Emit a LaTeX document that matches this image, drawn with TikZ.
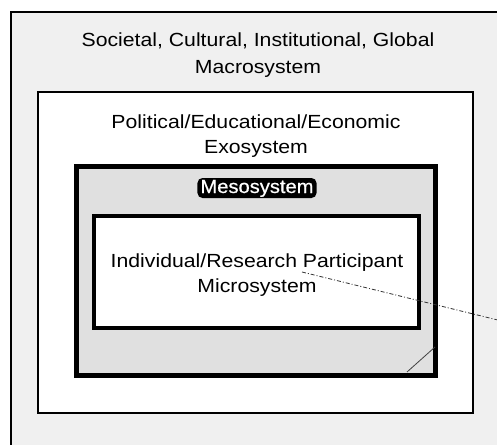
\documentclass[tikz,border=0pt]{standalone}
\usepackage{fontspec}
\setmainfont{Liberation Sans}[FakeStretch=1.117]
\newfontfamily\tagfont{Liberation Sans}[FakeStretch=1.06,FakeBold=0.6]
\begin{document}
\begin{tikzpicture}[x=1pt,y=-1pt,
  band/.style={draw=black, rectangle, inner sep=0pt, outer sep=0pt, anchor=north west},
  caption/.style={align=center, inner sep=0pt, anchor=base,
    font=\fontsize{19}{25}\selectfont},
  systag/.style={fill=black, text=white, rounded corners=5pt,
    inner xsep=3pt, inner ysep=1.5pt, text height=13.5pt, text depth=3.5pt,
    font=\tagfont\fontsize{19}{23}\selectfont},
  trace/.style={draw=black!80, line width=0.8pt,
    dash pattern=on 4pt off 2pt on 1pt off 2pt},
  nick/.style={draw=black!75, line width=0.8pt}]
\useasboundingbox (0,0) rectangle (497,444);
\fill[white] (0,0) rectangle (497,444);
\clip (0,0) rectangle (497,444);

% nested system boxes, outermost first
\node[band, line width=2.2pt, fill=black!6,
  minimum width=520pt, minimum height=470pt] (macro) at (11,12) {};
\node[band, line width=1.8pt, fill=white,
  minimum width=435pt, minimum height=321pt] (exo) at (38,92) {};
\node[band, line width=4.5pt, fill=black!12,
  minimum width=359pt, minimum height=209pt] (meso) at (76.5,166.5) {};
\node[band, line width=4pt, fill=white,
  minimum width=324.5pt, minimum height=111.5pt] (micro) at (94,216) {};

% labels (base anchor sits on the last line)
\node[caption, font=\fontsize{19}{27}\selectfont] (macrotext) at (258,74)
  {Societal, Cultural, Institutional, Global\\Macrosystem};
\node[caption] (exotext) at (256,153)
  {Political/Educational/Economic\\Exosystem};
\node[systag] (mesotext) at (257,188) {Mesosystem};
\node[caption] (microtext) at (257,292)
  {Individual/Research Participant\\Microsystem};

% faint strokes
\coordinate (trace start) at (302,272);
\coordinate (trace end) at (510,323);
\draw[trace] (trace start) -- (trace end);
\coordinate (nick top) at (435,347);
\coordinate (nick bottom) at (407,372);
\draw[nick] (nick top) -- (nick bottom);
\end{tikzpicture}
\end{document}
